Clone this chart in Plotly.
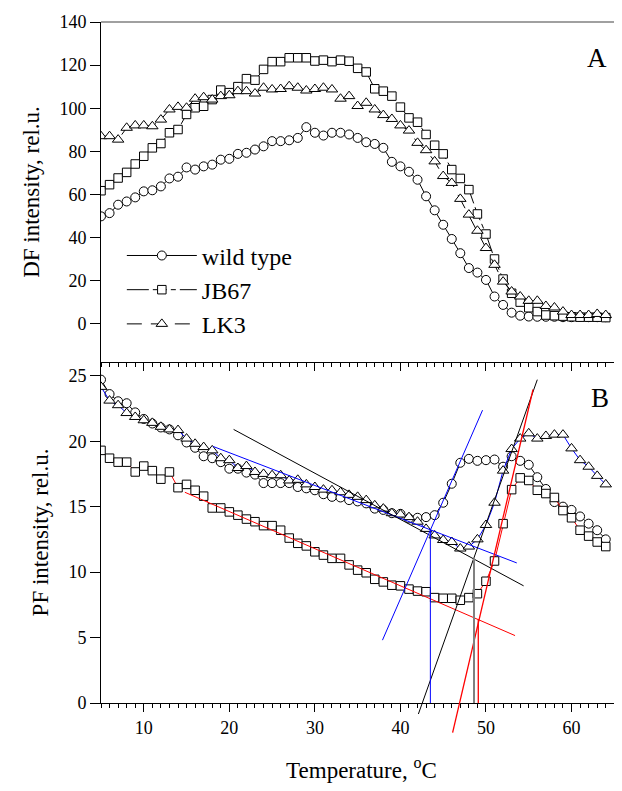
import plotly.graph_objects as go

# ---------------- data ----------------
temperature = [5, 6, 7, 8, 9, 10, 11, 12, 13, 14, 15, 16, 17, 18, 19, 20, 21, 22, 23, 24,
               25, 26, 27, 28, 29, 30, 31, 32, 33, 34, 35, 36, 37, 38, 39, 40, 41, 42, 43, 44,
               45, 46, 47, 48, 49, 50, 51, 52, 53, 54, 55, 56, 57, 58, 59, 60, 61, 62, 63, 64]

df_wild = [49.8, 51.3, 55.2, 56.7, 58.6, 61.4, 61.9, 63.7, 67.4, 68.2, 72.5, 71.5, 73.0, 73.8, 76.1, 76.5,
           78.8, 79.3, 80.8, 82.3, 84.7, 84.7, 85.1, 86.2, 91.2, 88.6, 87.3, 88.6, 88.6, 87.8, 86.2, 84.2,
           83.4, 81.6, 75.1, 73.0, 70.5, 66.8, 59.1, 52.6, 45.9, 39.3, 32.7, 25.8, 23.7, 20.3, 12.6, 8.7,
           5.1, 3.7, 3.3, 3.2, 3.2, 3.2, 3.0, 3.0, 3.2, 3.0, 3.0, 3.0]
df_jb67 = [61.7, 64.5, 67.6, 70.2, 74.1, 77.7, 81.6, 83.6, 88.6, 90.1, 97.1, 100.2, 100.9, 104.0, 108.4, 107.2,
           110.0, 113.7, 113.0, 118.0, 121.6, 121.6, 123.4, 123.4, 123.4, 121.9, 122.3, 121.6, 122.3, 121.8, 118.5, 116.8,
           109.0, 107.9, 105.6, 100.5, 95.5, 93.5, 87.8, 82.8, 78.8, 71.5, 67.4, 62.2, 50.9, 41.6, 30.0, 20.7,
           14.1, 10.0, 7.4, 5.6, 4.0, 3.7, 3.5, 3.2, 3.0, 3.0, 3.0, 2.8]
df_lk3 = [87.0, 87.0, 85.4, 90.9, 92.0, 92.0, 91.6, 94.7, 99.4, 100.6, 100.2, 104.4, 105.1, 104.0, 105.6, 106.0,
          107.9, 107.9, 106.8, 109.5, 108.7, 108.9, 110.2, 109.5, 108.2, 108.9, 109.5, 108.7, 104.4, 105.6, 101.0, 102.5,
          99.4, 96.8, 95.0, 92.0, 89.6, 83.9, 80.5, 75.3, 68.5, 65.3, 57.9, 50.6, 43.1, 35.1, 27.3, 19.5,
          14.9, 12.6, 10.6, 10.6, 8.2, 7.5, 5.6, 4.0, 4.0, 4.0, 4.5, 4.0]

pf_wild = [24.7, 23.6, 23.05, 22.9, 22.2, 21.7, 21.35, 21.05, 20.9, 20.45, 19.9, 19.5, 18.85, 18.7, 18.4, 17.9,
           17.9, 17.6, 17.45, 16.8, 16.8, 16.8, 16.8, 16.5, 16.4, 16.25, 15.95, 15.75, 15.7, 15.5, 15.4, 15.25,
           14.85, 14.75, 14.5, 14.45, 14.1, 14.15, 14.2, 14.35, 15.3, 16.75, 18.35, 18.65, 18.5, 18.55, 18.6, 18.05,
           18.85, 18.5, 18.2, 17.25, 16.35, 15.35, 15.0, 14.75, 14.25, 13.7, 13.2, 12.5]
pf_jb67 = [19.3, 18.7, 18.4, 18.4, 17.65, 18.1, 17.75, 17.1, 17.65, 16.45, 16.7, 16.25, 15.8, 14.9, 14.9, 14.6,
           14.35, 14.05, 13.85, 13.55, 13.55, 13.2, 12.6, 12.2, 12.0, 11.55, 11.3, 11.05, 11.05, 10.55, 10.15, 9.95,
           9.45, 9.25, 9.0, 8.95, 8.7, 8.55, 8.5, 8.05, 8.0, 8.0, 7.85, 8.05, 8.35, 9.3, 10.85, 13.7,
           16.3, 17.2, 17.0, 16.25, 16.0, 15.7, 14.7, 14.15, 13.2, 12.75, 12.3, 11.95]
pf_lk3 = [24.15, 23.1, 22.75, 22.15, 21.85, 21.6, 21.4, 21.1, 20.9, 20.85, 20.2, 19.8, 19.55, 19.3, 18.7, 18.55,
          17.95, 18.1, 17.65, 17.5, 17.4, 17.4, 17.0, 17.05, 16.7, 16.5, 16.3, 16.25, 16.1, 15.9, 15.75, 15.5,
          15.1, 14.85, 14.5, 14.4, 14.2, 13.85, 13.3, 12.8, 12.45, 12.3, 11.8, 11.95, 12.5, 13.6, 15.3, 17.75,
          19.4, 20.2, 20.6, 20.2, 20.4, 20.5, 20.5, 19.45, 18.55, 18.05, 17.35, 16.7]

# fitted straight lines in panel B (endpoints, data units)
fit_blue_base_t = [18.1, 53.6];  fit_blue_base_v = [19.6, 10.7]
fit_black_base_t = [20.5, 54.4]; fit_black_base_v = [20.9, 8.95]
fit_red_base_t = [14.8, 53.4];   fit_red_base_v = [16.1, 5.15]
fit_blue_steep_t = [37.9, 49.6]; fit_blue_steep_v = [4.8, 22.37]
fit_black_steep_t = [42.1, 56.0]; fit_black_steep_v = [-0.84, 24.7]
fit_red_steep_t = [46.1, 55.5];  fit_red_steep_v = [-2.27, 23.95]
drop_blue_t = [43.5, 43.5];  drop_blue_v = [0, 13.2]
drop_gray_t = [48.6, 48.6];  drop_gray_v = [0, 11.05]
drop_red_t = [49.1, 49.1];   drop_red_v = [0, 6.4]

series_names = ["wild type", "JB67", "LK3"]
serif = "Liberation Serif"

# ---------------- layout geometry (page has an 8 px body margin) ----------------
W, H = 614, 775
m_l, m_r, m_t, m_b = 93, 0, 14, 42
plot_bottom = H - m_b
plot_h = plot_bottom - m_t
split_px = 354       # boundary between panels (figure px)
bottom_px = 695      # x axis of panel B (figure px)
split_frac = (plot_bottom - split_px) / plot_h
b_bottom_frac = (plot_bottom - bottom_px) / plot_h
a_range = [-17.8, 140]
b_range = [0, 26.05]
b_span = b_range[1] - b_range[0]
y3_low = b_range[1] - b_span * (split_frac / (split_frac - b_bottom_frac))

fig = go.Figure()

styles = [
    dict(symbol="circle", size=9, dash="solid", bcolor="black"),
    dict(symbol="square", size=8.5, dash="22px,4px,5px,4px,5px,4px,5px,4px", bcolor="red"),
    dict(symbol="triangle-up", size=10, dash="15px,9px", bcolor="blue"),
]

for name, ys, st in zip(series_names, [df_wild, df_jb67, df_lk3], styles):
    fig.add_trace(go.Scatter(
        x=temperature, y=ys, name=name, mode="lines+markers",
        line=dict(color="black", width=1, dash=st["dash"]),
        marker=dict(symbol=st["symbol"], size=st["size"], color="white",
                    line=dict(color="black", width=1)),
        xaxis="x", yaxis="y"))

for name, ys, st in zip(series_names, [pf_wild, pf_jb67, pf_lk3], styles):
    fig.add_trace(go.Scatter(
        x=temperature, y=ys, name=name, mode="lines+markers", showlegend=False,
        line=dict(color=st["bcolor"], width=1),
        marker=dict(symbol=st["symbol"], size=st["size"], color="white",
                    line=dict(color="black", width=1)),
        xaxis="x2", yaxis="y2"))

fits = [
    (fit_blue_base_t, fit_blue_base_v, "blue", 1),
    (fit_black_base_t, fit_black_base_v, "black", 1),
    (fit_red_base_t, fit_red_base_v, "red", 1),
    (fit_blue_steep_t, fit_blue_steep_v, "blue", 1),
    (fit_black_steep_t, fit_black_steep_v, "black", 1),
    (fit_red_steep_t, fit_red_steep_v, "red", 1.3),
    (drop_blue_t, drop_blue_v, "blue", 1),
    (drop_gray_t, drop_gray_v, "#808080", 2),
    (drop_red_t, drop_red_v, "red", 1.3),
]
for tx, vy, col, w in fits:
    fig.add_trace(go.Scatter(x=tx, y=vy, mode="lines", showlegend=False,
                             line=dict(color=col, width=w), hoverinfo="skip",
                             xaxis="x2", yaxis="y3"))

axis_common = dict(showgrid=False, zeroline=False, showline=True, linecolor="black",
                   linewidth=1, ticks="outside", tickcolor="black",
                   tickfont=dict(family=serif, size=18, color="black"))

x_common = dict(axis_common, range=[5, 65.9], tick0=0, dtick=10, ticklen=8,
                minor=dict(dtick=1, tick0=0, ticks="outside", ticklen=4, tickcolor="black"))

title_font = dict(family=serif, size=23, color="black")

fig.update_layout(
    width=W, height=H,
    margin=dict(l=m_l, r=m_r, t=m_t, b=m_b),
    paper_bgcolor="white", plot_bgcolor="rgba(0,0,0,0)",
    font=dict(family=serif, color="black"),
    xaxis=dict(x_common, anchor="y", showticklabels=False),
    yaxis=dict(axis_common, domain=[split_frac, 1], range=a_range, tickvals=[0, 20, 40, 60, 80, 100, 120, 140],
               ticklen=10, anchor="x",
               title=dict(text="DF intensity, rel.u.", font=title_font, standoff=13)),
    xaxis2=dict(x_common, anchor="y2",
                title=dict(text="Temperature, <sup>o</sup>C", font=title_font, standoff=28)),
    yaxis2=dict(axis_common, domain=[b_bottom_frac, split_frac], range=b_range, tickvals=[0, 5, 10, 15, 20, 25],
                ticklen=10, anchor="x2",
                title=dict(text="PF intensity, rel.u.", font=title_font, standoff=13)),
    yaxis3=dict(domain=[0, split_frac], range=[y3_low, b_range[1]], visible=False, anchor="x2",
                showgrid=False, zeroline=False),
    legend=dict(x=0.04, y=0.706, xanchor="left", yanchor="top", bgcolor="rgba(0,0,0,0)",
                font=dict(family=serif, size=24, color="black"), itemwidth=70,
                tracegroupgap=0),
    showlegend=True,
    annotations=[
        dict(text="A", xref="x domain", yref="y domain", x=0.952, y=0.944, xanchor="center",
             showarrow=False, font=dict(family=serif, size=27, color="black")),
        dict(text="B", xref="x2 domain", yref="y2 domain", x=0.958, y=0.944, xanchor="center",
             showarrow=False, font=dict(family=serif, size=27, color="black")),
    ],
    shapes=[
        dict(type="line", xref="x domain", yref="y domain", x0=0, x1=1, y0=1, y1=1,
             line=dict(color="#808080", width=1.5)),
    ],
)

fig.write_html("out.html")
